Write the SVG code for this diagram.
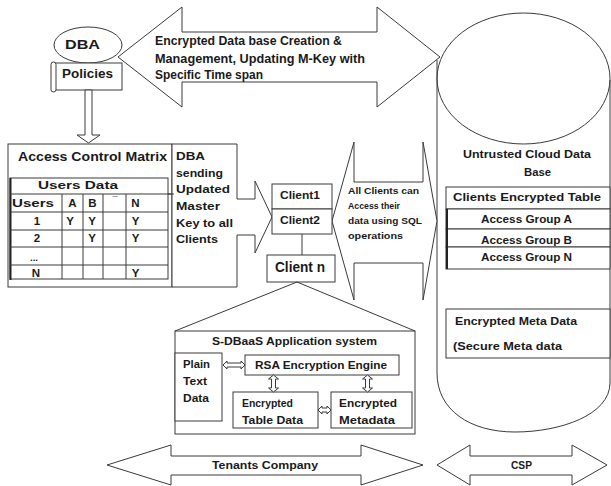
<svg xmlns="http://www.w3.org/2000/svg" width="611" height="486" viewBox="0 0 611 486">
<style>
.s{fill:#fff;stroke:#3a3a3a;stroke-width:1}
.n{fill:none;stroke:#3a3a3a;stroke-width:1}
.k{fill:none;stroke:#222;stroke-width:2}
text{font-family:"Liberation Sans",Arial,sans-serif;font-weight:bold;fill:#1a1a1a}
.f12{font-size:12.5px}
.f11{font-size:11.5px}
.f10{font-size:10.5px}
.f9{font-size:9.5px}
.f14{font-size:14px}
.m{text-anchor:middle}
</style>
<rect width="611" height="486" fill="#fff"/>

<g id="cloud-db">
  <path class="n" d="M437,60 V373 C437,410 470,432 515,432 C560,432 610,415 610,383 V80"/>
  <ellipse class="n" cx="523.5" cy="78.5" rx="86.5" ry="65.5"/>
  <text class="f10" x="463" y="158" textLength="128" lengthAdjust="spacingAndGlyphs">Untrusted Cloud Data</text>
  <text class="f10" x="524" y="176" textLength="27" lengthAdjust="spacingAndGlyphs">Base</text>
</g>

<g id="clients-encrypted-table">
  <rect class="s" x="446" y="187" width="164" height="22"/>
  <rect class="s" x="446" y="209" width="164" height="20"/>
  <rect class="s" x="446" y="229" width="164" height="18"/>
  <rect class="s" x="446" y="247" width="164" height="22"/>
  <line class="k" x1="447" y1="209" x2="447" y2="269"/>
  <text class="f11" x="453" y="200.5" textLength="148" lengthAdjust="spacingAndGlyphs">Clients Encrypted Table</text>
  <text class="f10" x="481" y="223" textLength="91" lengthAdjust="spacingAndGlyphs">Access Group A</text>
  <text class="f10" x="481" y="244" textLength="91" lengthAdjust="spacingAndGlyphs">Access Group B</text>
  <text class="f10" x="481" y="261" textLength="91" lengthAdjust="spacingAndGlyphs">Access Group N</text>
</g>

<g id="encrypted-meta-data">
  <rect class="s" x="446" y="309" width="164" height="49"/>
  <text class="f10" x="455" y="325" textLength="122" lengthAdjust="spacingAndGlyphs">Encrypted Meta Data</text>
  <text class="f10" x="453" y="350" textLength="109" lengthAdjust="spacingAndGlyphs">(Secure Meta data</text>
</g>

<g id="dba-management-arrow">
  <path class="s" d="M118,57 L182,7 V32 H377 V7 L440,57 L377,107 V82 H182 V107 Z"/>
  <text class="f12" x="155" y="45" textLength="187" lengthAdjust="spacingAndGlyphs">Encrypted Data base Creation &amp;</text>
  <text class="f12" x="155" y="63" textLength="210" lengthAdjust="spacingAndGlyphs">Management, Updating M-Key with</text>
  <text class="f12" x="155" y="79" textLength="108" lengthAdjust="spacingAndGlyphs">Specific Time span</text>
</g>

<g id="dba">
  <ellipse class="s" cx="88" cy="45" rx="34" ry="18"/>
  <text class="f12" x="65" y="49.3" textLength="35" lengthAdjust="spacingAndGlyphs">DBA</text>
</g>

<g id="policies">
  <rect class="s" x="55" y="63" width="67" height="27"/>
  <rect class="s" x="51" y="62" width="5" height="30" rx="2.5"/>
  <text class="f12" x="62" y="77.5" textLength="51" lengthAdjust="spacingAndGlyphs">Policies</text>
</g>

<g id="access-control-matrix">
  <rect class="s" x="8" y="144" width="164" height="143"/>
  <text class="f12" x="18" y="161" textLength="149" lengthAdjust="spacingAndGlyphs">Access Control Matrix</text>
  <rect class="n" x="10" y="178" width="158" height="101"/>
  <line class="k" x1="10.5" y1="178" x2="10.5" y2="280"/>
  <line class="n" x1="10" y1="194" x2="174" y2="194"/>
  <line class="n" x1="10" y1="212" x2="168" y2="212"/>
  <line class="n" x1="10" y1="230" x2="168" y2="230"/>
  <line class="n" x1="10" y1="247" x2="168" y2="247"/>
  <line class="n" x1="10" y1="265" x2="168" y2="265"/>
  <line class="n" x1="62" y1="194" x2="62" y2="279"/>
  <line class="n" x1="83" y1="194" x2="83" y2="279"/>
  <line class="n" x1="103" y1="194" x2="103" y2="279"/>
  <line class="n" x1="126" y1="194" x2="126" y2="279"/>
  <text class="f11" x="38" y="189" textLength="80" lengthAdjust="spacingAndGlyphs">Users Data</text>
  <text class="f11" x="12" y="207" textLength="42" lengthAdjust="spacingAndGlyphs">Users</text>
  <text class="f11 m" x="72.5" y="207">A</text>
  <text class="f11 m" x="92.5" y="207">B</text>
  <text class="f9 m" x="115" y="203">¯</text>
  <text class="f11 m" x="135.5" y="207">N</text>
  <text class="f11 m" x="37" y="225">1</text>
  <text class="f11 m" x="70" y="225">Y</text>
  <text class="f11 m" x="92" y="225">Y</text>
  <text class="f11 m" x="135.5" y="225">Y</text>
  <text class="f11 m" x="37" y="242">2</text>
  <text class="f11 m" x="92" y="242">Y</text>
  <text class="f11 m" x="135.5" y="242">Y</text>
  <text class="f9" x="30" y="261" textLength="8" lengthAdjust="spacingAndGlyphs">...</text>
  <text class="f11 m" x="36" y="277">N</text>
  <text class="f11 m" x="135.5" y="277">Y</text>
</g>

<g id="dba-sending-callout">
  <path class="s" d="M172,144 H237 V199 H255 V181 L272,217 L255,253 V235 H237 V287 H172 Z"/>
  <line class="n" x1="168" y1="194" x2="174" y2="194"/>
  <text class="f11" x="176" y="159.5" textLength="29" lengthAdjust="spacingAndGlyphs">DBA</text>
  <text class="f11" x="176" y="176.5" textLength="47" lengthAdjust="spacingAndGlyphs">sending</text>
  <text class="f11" x="176" y="192.5" textLength="54" lengthAdjust="spacingAndGlyphs">Updated</text>
  <text class="f11" x="176" y="209.5" textLength="44" lengthAdjust="spacingAndGlyphs">Master</text>
  <text class="f11" x="176" y="226.5" textLength="57" lengthAdjust="spacingAndGlyphs">Key to all</text>
  <text class="f11" x="176" y="243" textLength="42" lengthAdjust="spacingAndGlyphs">Clients</text>
</g>

<g id="sql-access-arrow">
  <path class="s" d="M332,221 L354,142 V182 H423 V142 L437,221 L423,300 V263 H354 V300 Z"/>
  <text class="f9" x="348" y="194" textLength="71" lengthAdjust="spacingAndGlyphs">All Clients can</text>
  <text class="f9" x="348" y="209" textLength="52" lengthAdjust="spacingAndGlyphs">Access their</text>
  <text class="f9" x="348" y="224" textLength="74" lengthAdjust="spacingAndGlyphs">data using SQL</text>
  <text class="f9" x="348" y="239" textLength="55" lengthAdjust="spacingAndGlyphs">operations</text>
</g>

<g id="client1">
  <rect class="s" x="272" y="184" width="60" height="25"/>
  <text class="f11" x="280" y="199" textLength="40" lengthAdjust="spacingAndGlyphs">Client1</text>
</g>
<g id="client2">
  <rect class="s" x="272" y="209" width="60" height="25"/>
  <text class="f11" x="280" y="224" textLength="40" lengthAdjust="spacingAndGlyphs">Client2</text>
</g>
<g id="client-n">
  <rect class="s" x="267" y="255" width="68" height="27"/>
  <text class="f14" x="275" y="272" textLength="50" lengthAdjust="spacingAndGlyphs">Client n</text>
</g>

<g id="sdbaas-system">
  <rect class="s" x="175" y="331" width="240" height="103"/>
  <text class="f10" x="212" y="345" textLength="165" lengthAdjust="spacingAndGlyphs">S-DBaaS Application system</text>
</g>
<g id="plain-text-data">
  <rect class="s" x="175" y="353" width="47" height="68"/>
  <text class="f10" x="183" y="367.5" textLength="27" lengthAdjust="spacingAndGlyphs">Plain</text>
  <text class="f10" x="183" y="384.5" textLength="24" lengthAdjust="spacingAndGlyphs">Text</text>
  <text class="f10" x="183" y="401.5" textLength="26" lengthAdjust="spacingAndGlyphs">Data</text>
</g>
<g id="rsa-engine">
  <rect class="s" x="245" y="355" width="154" height="20"/>
  <text class="f10" x="255" y="368.5" textLength="132" lengthAdjust="spacingAndGlyphs">RSA Encryption Engine</text>
</g>
<g id="encrypted-table-data">
  <rect class="s" x="233" y="392" width="85" height="36"/>
  <text class="f10" x="242" y="406.5" textLength="51" lengthAdjust="spacingAndGlyphs">Encrypted</text>
  <text class="f10" x="242" y="423.5" textLength="61" lengthAdjust="spacingAndGlyphs">Table Data</text>
</g>
<g id="encrypted-metadata">
  <rect class="s" x="331" y="392" width="81" height="36"/>
  <text class="f10" x="339" y="406.5" textLength="58" lengthAdjust="spacingAndGlyphs">Encrypted</text>
  <text class="f10" x="339" y="423.5" textLength="56" lengthAdjust="spacingAndGlyphs">Metadata</text>
</g>

<g id="tenants-company">
  <path class="s" d="M107,465 L171,445 V456 H361 V445 L423,465 L361,485 V475 H171 V485 Z"/>
  <text class="f10" x="212" y="469" textLength="106" lengthAdjust="spacingAndGlyphs">Tenants Company</text>
</g>
<g id="csp">
  <path class="s" d="M437,465 L470,445 V456 H572 V445 L607,465 L572,485 V475 H470 V485 Z"/>
  <text class="f10" x="511" y="469" textLength="21" lengthAdjust="spacingAndGlyphs">CSP</text>
</g>

<g id="connectors">
  <path class="s" d="M85,90 V135 H77 L88.5,143 L100,135 H92 V90 Z"/>
  <line class="n" x1="302" y1="234" x2="302" y2="255"/>
  <path class="n" d="M175,331 L297,282 L415,331"/>
  <path class="s" d="M223,365 L227,361 V363 H241 V361 L245,365 L241,369 V367 H227 V369 Z"/>
  <path class="s" d="M318,410 L322,406 V408 H327 V406 L331,410 L327,414 V412 H322 V414 Z"/>
  <path class="s" d="M273.5,375 L278.5,379 H275.5 V388 H278.5 L273.5,392 L268.5,388 H271.5 V379 H268.5 Z"/>
  <path class="s" d="M367.5,375 L372.5,379 H369.5 V388 H372.5 L367.5,392 L362.5,388 H365.5 V379 H362.5 Z"/>
</g>
</svg>
